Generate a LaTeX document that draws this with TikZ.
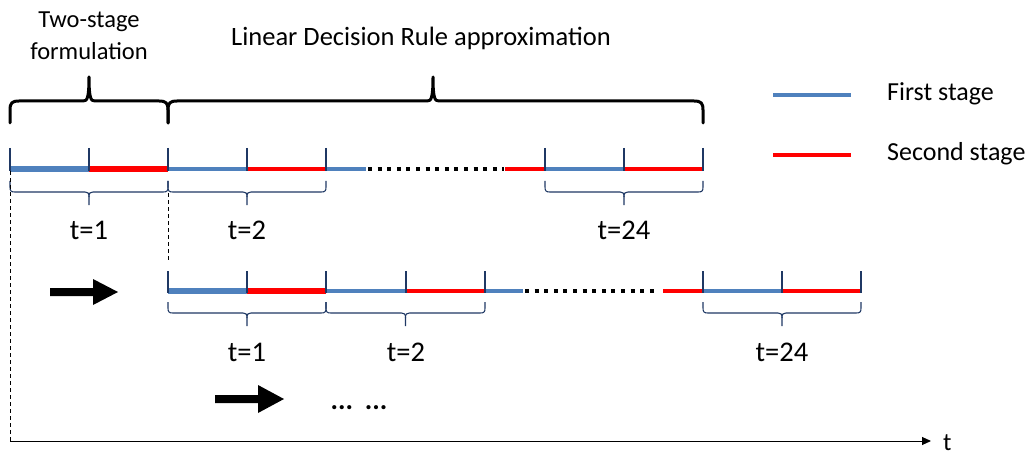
\documentclass[tikz,border=0pt]{standalone}
\usepackage{fontspec}
\setmainfont{Carlito}
\usetikzlibrary{arrows.meta}
\definecolor{fsblue}{RGB}{79,129,189}
\definecolor{ssred}{RGB}{255,0,0}
\definecolor{navy}{RGB}{31,56,100}
\tikzset{
  thickseg/.style={line width=5.5pt},
  thinseg/.style={line width=3.2pt},
  dotseg/.style={line width=4pt, dash pattern=on 4pt off 5.6pt, black},
  tickline/.style={navy, line width=1.1pt},
  sbr/.style={navy, line width=1.1pt, line join=round},
  bbr/.style={black, line width=3pt, line join=round, line cap=round},
  lbl/.style={font=\fontsize{28.5}{30}\selectfont, inner sep=0pt},
  head/.style={font=\fontsize{24.5}{32}\selectfont, inner sep=0pt, align=center},
  legtxt/.style={font=\fontsize{26}{30}\selectfont, inner sep=0pt, anchor=west},
  dashv/.style={black, line width=0.8pt, dash pattern=on 4pt off 3pt},
}
\newcommand{\lowbrace}[3]{%
  \pgfmathsetmacro\bxm{(#1+#2)/2}%
  \draw[sbr] (#1,#3) -- (#1,#3+6) .. controls (#1,#3+10) and (#1+1,#3+11) .. (#1+5,#3+11) -- (\bxm-4,#3+11) .. controls (\bxm-1,#3+11) and (\bxm,#3+12) .. (\bxm,#3+16) -- (\bxm,#3+24);
  \draw[sbr] (#2,#3) -- (#2,#3+6) .. controls (#2,#3+10) and (#2-1,#3+11) .. (#2-5,#3+11) -- (\bxm+4,#3+11) .. controls (\bxm+1,#3+11) and (\bxm,#3+12) .. (\bxm,#3+16);
}
\newcommand{\bigbrace}[3]{%
  \draw[bbr] (#1,123) -- (#1,110) .. controls (#1,103) and (#1+2,101) .. (#1+9,101) -- (#3-6,101) .. controls (#3-2,101) and (#3,99) .. (#3,77) .. controls (#3,99) and (#3+2,101) .. (#3+6,101) -- (#2-9,101) .. controls (#2-2,101) and (#2,103) .. (#2,110) -- (#2,123);
}
\begin{document}
\begin{tikzpicture}[x=1pt,y=-1pt]
\useasboundingbox (0,0) rectangle (1035,457);

% headings
\node[head] (hts) at (89,36) {Two-stage\\formulation};
\node[head, font=\fontsize{26.5}{32}\selectfont] (hldr) at (421,38) {Linear Decision Rule approximation};
\bigbrace{10}{168}{89}
\bigbrace{168}{703}{433}

% legend
\coordinate (l1a) at (773,95); \coordinate (l1b) at (851,95);
\coordinate (l2a) at (773,155); \coordinate (l2b) at (851,155);
\draw[fsblue, line width=3.5pt] (l1a) -- (l1b);
\draw[ssred, line width=3.5pt] (l2a) -- (l2b);
\node[legtxt] (lt1) at (887,94) {First stage};
\node[legtxt] (lt2) at (887,154) {Second stage};

% row 1 segments
\draw[fsblue, thickseg] (10,169) -- (89,169);
\draw[ssred, thickseg] (89,169) -- (168,169);
\draw[fsblue, thinseg] (168,169) -- (247,169);
\draw[ssred, thinseg] (247,169) -- (326,169);
\draw[fsblue, thinseg] (326,169) -- (366,169);
\draw[dotseg] (368,169) -- (504,169);
\draw[ssred, thinseg] (505,169) -- (545,169);
\draw[fsblue, thinseg] (545,169) -- (624,169);
\draw[ssred, thinseg] (624,169) -- (703,169);
\foreach \x in {10,89,168,247,326,545,624,703}
  \draw[tickline] (\x,148) -- (\x,171);
\lowbrace{10}{168}{181}
\lowbrace{168}{326}{181}
\lowbrace{545}{703}{181}
\node[lbl] (r1a) at (89,230) {t=1};
\node[lbl] (r1b) at (247,230) {t=2};
\node[lbl] (r1c) at (624,230) {t=24};

% row 2 segments
\draw[fsblue, thickseg] (168,291) -- (247,291);
\draw[ssred, thickseg] (247,291) -- (326,291);
\draw[fsblue, thinseg] (326,291) -- (406,291);
\draw[ssred, thinseg] (406,291) -- (485,291);
\draw[fsblue, thinseg] (485,291) -- (523,291);
\draw[dotseg] (525,291) -- (659,291);
\draw[ssred, thinseg] (663,291) -- (703,291);
\draw[fsblue, thinseg] (703,291) -- (782,291);
\draw[ssred, thinseg] (782,291) -- (861,291);
\foreach \x in {168,247,326,406,485,703,782,861}
  \draw[tickline] (\x,271) -- (\x,293);
\lowbrace{168}{326}{302}
\lowbrace{326}{485}{302}
\lowbrace{703}{861}{302}
\node[lbl] (r2a) at (247,352) {t=1};
\node[lbl] (r2b) at (406,352) {t=2};
\node[lbl] (r2c) at (782,352) {t=24};

% thick arrows
\fill[black] (50,288) -- (93,288) -- (93,279) -- (118,292) -- (93,305) -- (93,296) -- (50,296) -- cycle;
\fill[black] (215,395) -- (258,395) -- (258,385) -- (284,399) -- (258,413) -- (258,403) -- (215,403) -- cycle;
\node[inner sep=0pt, font=\bfseries\fontsize{28}{30}\selectfont, anchor=base] (dots) at (359,409) {...\hspace{12pt}...};

% axis and dashed guides
\coordinate (o) at (10,441);
\coordinate (top1) at (10,171);
\coordinate (top2) at (168,193);
\coordinate (bot2) at (168,262);
\coordinate (tend) at (931,441);
\draw[dashv] (top1) -- (o);
\draw[dashv] (top2) -- (bot2);
\draw[black, line width=1pt, -{Triangle[length=9pt,width=8pt]}] (o) -- (tend);
\node[inner sep=0pt, font=\fontsize{25}{27}\selectfont, anchor=base west] (tlab) at (943,450) {t};
\end{tikzpicture}
\end{document}
